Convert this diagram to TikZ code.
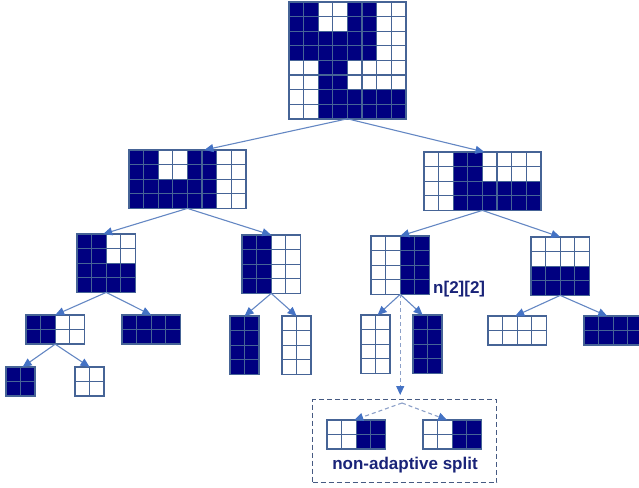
\documentclass[tikz,border=0pt]{standalone}
\usepackage{fontspec}
\setmainfont{Liberation Sans}
\usetikzlibrary{arrows.meta}
\definecolor{navy}{RGB}{0,0,128}
\definecolor{gline}{RGB}{70,100,150}
\definecolor{arrline}{RGB}{100,135,195}
\definecolor{arrhead}{RGB}{68,114,196}
\definecolor{dline}{RGB}{140,160,200}
\definecolor{boxline}{RGB}{70,90,130}
\definecolor{txt}{RGB}{25,35,120}
\newcommand\cellsz{14.6}
\newcommand\gridbox[6]{%
  \foreach \row [count=\r from 0] in {#6} {
    \foreach \v [count=\c from 0] in \row {
      \ifnum\v=1
        \fill[navy] ({#2+\c*\cellsz},{-#3-\r*\cellsz}) rectangle ++(\cellsz,-\cellsz);
      \fi
    }
  }
  \foreach \i in {0,...,#4}
    \draw[gridl] ({#2+\i*\cellsz},-#3) -- ++(0,{-#5*\cellsz});
  \foreach \j in {0,...,#5}
    \draw[gridl] (#2,{-#3-\j*\cellsz}) -- ++({#4*\cellsz},0);
  \node[gridframe, minimum width={#4*\cellsz*1pt}, minimum height={#5*\cellsz*1pt}, anchor=north west] (#1) at (#2,-#3) {};
}
\tikzset{
  gridl/.style={draw=gline, line width=1.3pt},
  gridframe/.style={draw=gline, line width=1.8pt, inner sep=0pt, outer sep=0pt, rectangle},
  arr/.style={draw=arrline, line width=1.1pt, -{Triangle[length=9pt,width=8pt,fill=arrhead,color=arrhead]}},
  darr/.style={draw=dline, line width=1.1pt, dash pattern=on 4pt off 3pt, -{Triangle[length=9pt,width=8pt,fill=arrhead,color=arrhead]}},
  dashbox/.style={draw=boxline, line width=1.1pt, dash pattern=on 5pt off 3pt, inner sep=0pt, rectangle},
  lbl/.style={text=txt, font=\fontsize{17}{17}\selectfont\bfseries, inner sep=0pt}
}
\begin{document}
\begin{tikzpicture}[x=1pt,y=1pt]
\useasboundingbox (0,0) rectangle (639,-487);
\clip (0,0) rectangle (639,-487);
% level 0
\gridbox{Top}{289}{2}{8}{8}{{1,1,0,0,1,1,0,0},{1,1,0,0,1,1,0,0},{1,1,1,1,1,1,0,0},{1,1,1,1,1,1,0,0},{0,0,1,1,0,0,0,0},{0,0,1,1,0,0,0,0},{0,0,1,1,1,1,1,1},{0,0,1,1,1,1,1,1}}
% level 1
\gridbox{LA}{129}{150}{8}{4}{{1,1,0,0,1,1,0,0},{1,1,0,0,1,1,0,0},{1,1,1,1,1,1,0,0},{1,1,1,1,1,1,0,0}}
\gridbox{LB}{424}{152}{8}{4}{{0,0,1,1,0,0,0,0},{0,0,1,1,0,0,0,0},{0,0,1,1,1,1,1,1},{0,0,1,1,1,1,1,1}}
% level 2
\gridbox{LL}{77}{234}{4}{4}{{1,1,0,0},{1,1,0,0},{1,1,1,1},{1,1,1,1}}
\gridbox{LR}{242}{235}{4}{4}{{1,1,0,0},{1,1,0,0},{1,1,0,0},{1,1,0,0}}
\gridbox{RL}{371}{236}{4}{4}{{0,0,1,1},{0,0,1,1},{0,0,1,1},{0,0,1,1}}
\gridbox{RR}{531}{237}{4}{4}{{0,0,0,0},{0,0,0,0},{1,1,1,1},{1,1,1,1}}
% level 3
\gridbox{LLa}{26}{315}{4}{2}{{1,1,0,0},{1,1,0,0}}
\gridbox{LLb}{122}{315}{4}{2}{{1,1,1,1},{1,1,1,1}}
\gridbox{LRa}{230}{316}{2}{4}{{1,1},{1,1},{1,1},{1,1}}
\gridbox{LRb}{282}{316}{2}{4}{{0,0},{0,0},{0,0},{0,0}}
\gridbox{RLa}{361}{315}{2}{4}{{0,0},{0,0},{0,0},{0,0}}
\gridbox{RLb}{413}{315}{2}{4}{{1,1},{1,1},{1,1},{1,1}}
\gridbox{RRa}{488}{316}{4}{2}{{0,0,0,0},{0,0,0,0}}
\gridbox{RRb}{584}{316}{4}{2}{{1,1,1,1},{1,1,1,1}}
% level 4
\gridbox{LLaa}{6}{367}{2}{2}{{1,1},{1,1}}
\gridbox{LLab}{75}{367}{2}{2}{{0,0},{0,0}}
% non-adaptive split box
\node[dashbox, minimum width=184pt, minimum height=83pt, anchor=north west] (nabox) at (312,-399) {};
\gridbox{NA}{327}{420}{4}{2}{{0,0,1,1},{0,0,1,1}}
\gridbox{NB}{423}{420}{4}{2}{{0,0,1,1},{0,0,1,1}}
\coordinate (split) at (402,-403);
\node[lbl] (natext) at (405,-465) {non-adaptive split};
\node[lbl, anchor=west] (nlab) at (433,-289) {n[2][2]};
% arrows
\draw[arr] (Top.south) -- ([xshift=17pt]LA.north);
\draw[arr] (Top.south) -- ([xshift=2pt]LB.north);
\draw[arr] (LA.south) -- ([xshift=-3pt]LL.north);
\draw[arr] (LA.south) -- (LR.north);
\draw[arr] (LB.south) -- (RL.north);
\draw[arr] (LB.south) -- (RR.north);
\draw[arr] (LL.south) -- (LLa.north);
\draw[arr] (LL.south) -- (LLb.north);
\draw[arr] (LR.south) -- (LRa.north);
\draw[arr] (LR.south) -- (LRb.north);
\draw[arr] (RL.south) -- ([xshift=2pt]RLa.north);
\draw[arr] (RL.south) -- ([xshift=-5pt]RLb.north);
\draw[arr] (RR.south) -- ([xshift=-2pt]RRa.north);
\draw[arr] (RR.south) -- ([xshift=-6pt]RRb.north);
\draw[arr] (LLa.south) -- ([xshift=2pt]LLaa.north);
\draw[arr] (LLa.south) -- (LLab.north);
\draw[darr, shorten >=4pt] (RL.south) -- (nabox.north -| RL.south);
\draw[darr] (split) -- ([xshift=-2pt]NA.north);
\draw[darr] (split) -- ([xshift=-5pt]NB.north);
\end{tikzpicture}
\end{document}
